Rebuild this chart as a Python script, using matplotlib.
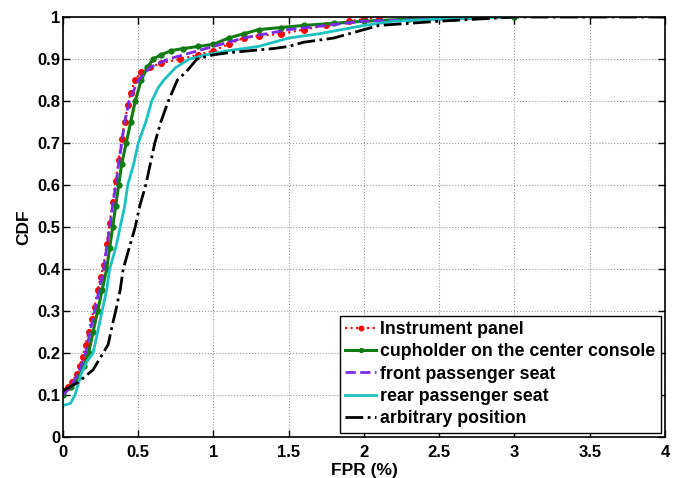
import matplotlib
matplotlib.use("Agg")
import matplotlib.pyplot as plt

# CDF curves (FPR in %, CDF)
red_x = [0, 0.03, 0.06, 0.09, 0.11, 0.13, 0.15, 0.17, 0.19, 0.21, 0.23, 0.25, 0.27, 0.29,
         0.31, 0.33, 0.35, 0.37, 0.39, 0.41, 0.43, 0.45, 0.48, 0.52, 0.58, 0.65, 0.78, 0.9,
         1.0, 1.1, 1.2, 1.3, 1.45, 1.6, 1.75, 1.9, 2.0, 2.1]
red_y = [0.11, 0.12, 0.13, 0.15, 0.17, 0.19, 0.22, 0.25, 0.28, 0.31, 0.35, 0.38, 0.41, 0.46,
         0.51, 0.56, 0.61, 0.66, 0.71, 0.75, 0.79, 0.82, 0.85, 0.87, 0.88, 0.89, 0.9, 0.91,
         0.92, 0.935, 0.95, 0.955, 0.96, 0.97, 0.98, 0.99, 0.995, 1.0]

green_x = [0, 0.05, 0.1, 0.14, 0.17, 0.2, 0.23, 0.26, 0.29, 0.31, 0.33, 0.35, 0.37, 0.39,
           0.42, 0.45, 0.48, 0.52, 0.56, 0.6, 0.65, 0.72, 0.8, 0.9, 1.0, 1.1, 1.2, 1.3,
           1.45, 1.6, 1.8, 2.0, 2.3, 2.6, 3.0]
green_y = [0.1, 0.12, 0.14, 0.17, 0.2, 0.25, 0.3, 0.35, 0.4, 0.45, 0.5, 0.55, 0.6, 0.65,
           0.7, 0.75, 0.8, 0.85, 0.88, 0.9, 0.91, 0.92, 0.925, 0.93, 0.935, 0.95, 0.96, 0.97,
           0.975, 0.98, 0.985, 0.99, 0.995, 0.997, 1.0]

purple_x = [0, 0.05, 0.1, 0.15, 0.18, 0.21, 0.24, 0.27, 0.29, 0.31, 0.33, 0.35, 0.37, 0.39,
            0.41, 0.44, 0.5, 0.58, 0.7, 0.8, 0.9, 1.05, 1.2, 1.35, 1.5, 1.75, 2.0, 2.5, 3.0]
purple_y = [0.1, 0.12, 0.15, 0.2, 0.25, 0.3, 0.35, 0.4, 0.45, 0.5, 0.55, 0.6, 0.65, 0.7,
            0.75, 0.8, 0.85, 0.88, 0.9, 0.91, 0.92, 0.935, 0.95, 0.96, 0.97, 0.98, 0.99, 0.995, 1.0]

cyan_x = [0, 0.05, 0.08, 0.12, 0.16, 0.2, 0.23, 0.26, 0.29, 0.31, 0.35, 0.38, 0.41, 0.43,
          0.47, 0.5, 0.55, 0.59, 0.63, 0.67, 0.75, 0.84, 0.95, 1.1, 1.3, 1.5, 1.7, 1.85,
          2.0, 2.2, 2.5, 3.0]
cyan_y = [0.075, 0.08, 0.1, 0.15, 0.18, 0.2, 0.25, 0.3, 0.35, 0.4, 0.45, 0.5, 0.55, 0.6,
          0.65, 0.7, 0.75, 0.8, 0.83, 0.85, 0.88, 0.9, 0.91, 0.92, 0.93, 0.95, 0.96, 0.97,
          0.98, 0.99, 0.995, 1.0]

black_x = [0, 0.1, 0.2, 0.3, 0.33, 0.35, 0.38, 0.4, 0.44, 0.48, 0.51, 0.55, 0.58, 0.61,
           0.65, 0.7, 0.76, 0.82, 0.89, 1.0, 1.1, 1.25, 1.4, 1.5, 1.6, 1.8, 2.0, 2.1, 2.5,
           3.0, 4.0]
black_y = [0.11, 0.13, 0.16, 0.22, 0.27, 0.3, 0.35, 0.4, 0.45, 0.5, 0.55, 0.6, 0.65, 0.7,
           0.75, 0.8, 0.85, 0.87, 0.9, 0.91, 0.915, 0.92, 0.925, 0.93, 0.94, 0.95, 0.97, 0.98,
           0.99, 1.0, 1.0]

labels = ["Instrument panel", "cupholder on the center console", "front passenger seat",
          "rear passenger seat", "arbitrary position"]
x_ticks = [0, 0.5, 1, 1.5, 2, 2.5, 3, 3.5, 4]
y_ticks = [0, 0.1, 0.2, 0.3, 0.4, 0.5, 0.6, 0.7, 0.8, 0.9, 1]

plt.rcParams['font.family'] = ['Liberation Sans', 'DejaVu Sans']
plt.rcParams['font.weight'] = 'bold'
plt.rcParams['font.size'] = 12

fig = plt.figure(figsize=(6.81, 4.78), dpi=100)
ax = fig.add_axes([0.0925, 0.0858, 0.884, 0.8786])

ax.plot(red_x, red_y, color='red', linestyle=':', linewidth=1.5, marker='.', markersize=8,
        label=labels[0])
ax.plot(green_x, green_y, color='#117a11', linestyle='-', linewidth=2.2, marker='.',
        markersize=7, label=labels[1])
ax.plot(purple_x, purple_y, color='#7a2be6', linestyle='--', linewidth=2, label=labels[2])
ax.plot(cyan_x, cyan_y, color='#1cc0c0', linestyle='-', linewidth=2, label=labels[3])
ax.plot(black_x, black_y, color='black', linestyle='-.', linewidth=2, label=labels[4])

ax.set_xlim(0, 4)
ax.set_ylim(0, 1)
ax.set_xticks(x_ticks)
ax.set_xticklabels(['0', '0.5', '1', '1.5', '2', '2.5', '3', '3.5', '4'])
ax.set_yticks(y_ticks)
ax.set_yticklabels(['0', '0.1', '0.2', '0.3', '0.4', '0.5', '0.6', '0.7', '0.8', '0.9', '1'])
ax.tick_params(axis='x', direction='in', top=True, length=5, width=1, pad=6)
ax.tick_params(axis='y', direction='in', right=True, length=5, width=1, pad=2)
ax.grid(True, linestyle=':', color='#999999', linewidth=0.8)
for s in ax.spines.values():
    s.set_linewidth(1.2)

ax.set_xlabel('FPR (%)', fontweight='bold', fontsize=12.5, labelpad=2)
ax.set_ylabel('CDF', fontweight='bold', fontsize=12.5, labelpad=4)

leg = ax.legend(loc='lower right', fancybox=False, framealpha=1, edgecolor='black',
                fontsize=12.75, handlelength=1.7, handletextpad=0.25, borderpad=0.3,
                labelspacing=0.3, borderaxespad=0.25, markerscale=0.8)
leg.get_frame().set_linewidth(1.0)

fig.savefig('out.png', dpi=100)
plt.close()
